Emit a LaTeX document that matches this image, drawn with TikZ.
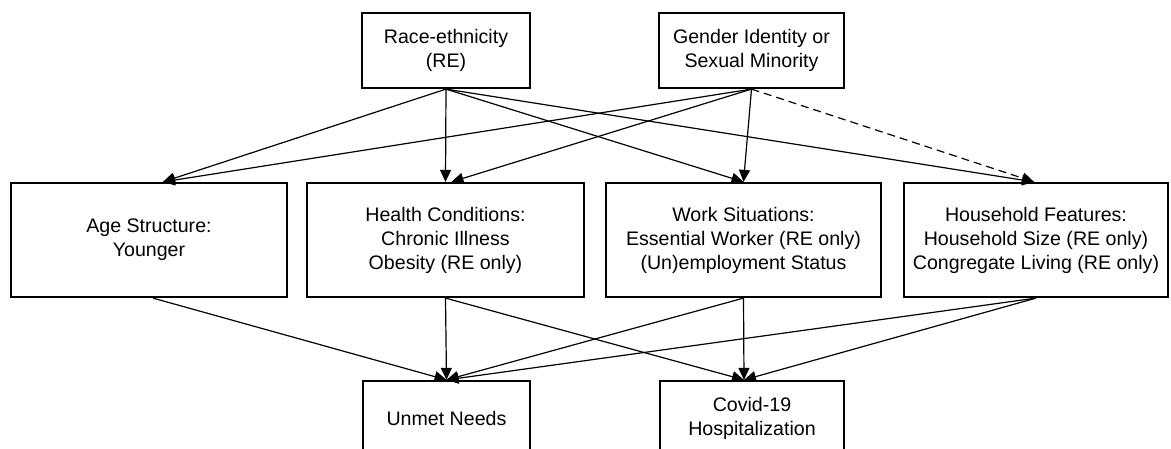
\documentclass[tikz,border=0pt]{standalone}
\usepackage{fontspec}
\setmainfont{Liberation Sans}
\usetikzlibrary{arrows.meta}

\tikzset{
    factorbox/.style={draw, line width=2.2pt, align=center, inner sep=0pt,
        font=\fontsize{19.6}{24}\selectfont},
    link/.style={line width=1.2pt, -{Triangle[length=12pt,width=11pt]}},
}

\begin{document}
\begin{tikzpicture}[x=1pt,y=-1pt]
    \useasboundingbox (0,0) rectangle (1171,449);

    % exposures
    \node[factorbox, minimum width=168pt, minimum height=75pt] (race) at (446,50.5) {Race-ethnicity\\(RE)};
    \node[factorbox, minimum width=185pt, minimum height=75pt] (gender) at (751.5,50.5) {Gender Identity or\\Sexual Minority};

    % mediators
    \node[factorbox, minimum width=276pt, minimum height=114pt] (age) at (149,240) {Age Structure:\\Younger};
    \node[factorbox, minimum width=277pt, minimum height=114pt] (health) at (445.5,240) {Health Conditions:\\Chronic Illness\\Obesity (RE only)};
    \node[factorbox, minimum width=275pt, minimum height=114pt] (work) at (743.5,240) {Work Situations:\\Essential Worker (RE only)\\(Un)employment Status};
    \node[factorbox, minimum width=264pt, minimum height=114pt] (house) at (1036,240) {Household Features:\\Household Size (RE only)\\Congregate Living (RE only)};

    % outcomes
    \node[factorbox, minimum width=167pt, minimum height=75pt] (unmet) at (446.5,418.5) {Unmet Needs};
    \node[factorbox, minimum width=184pt, minimum height=75pt] (covid) at (752,418.5) {Covid-19\\Hospitalization};

    \draw[link] (race.south) -- ([xshift=14pt]age.north);
    \draw[link] (race.south) -- (health.north);
    \draw[link] (race.south) -- (work.north);
    \draw[link] (race.south) -- ([xshift=-2pt]house.north);

    \draw[link] (gender.south) -- ([xshift=14pt]age.north);
    \draw[link] (gender.south) -- ([xshift=6pt]health.north);
    \draw[link] (gender.south) -- (work.north);
    \draw[link, dash pattern=on 8pt off 5pt] (gender.south) -- ([xshift=-2pt]house.north);

    \draw[link] ([xshift=4pt]age.south) -- (unmet.north);
    \draw[link] (health.south) -- (unmet.north);
    \draw[link] (health.south) -- ([xshift=-8pt]covid.north);
    \draw[link] (work.south) -- (unmet.north);
    \draw[link] (work.south) -- ([xshift=-8pt]covid.north);
    \draw[link] (house.south) -- (unmet.north);
    \draw[link] (house.south) -- ([xshift=-8pt]covid.north);
\end{tikzpicture}
\end{document}
